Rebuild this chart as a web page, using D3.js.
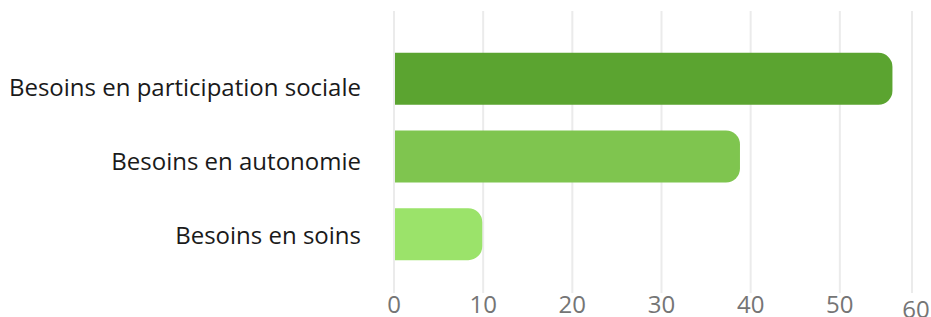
<!DOCTYPE html>
<html>
<head>
<meta charset="utf-8">
<script src="https://cdn.jsdelivr.net/npm/d3@7"></script>
<style>
  body { margin: 0; background: #fff; }
  svg { display: block; font-family: "Open Sans", sans-serif; }
</style>
</head>
<body>
<div id="chart"></div>
<script>
// categories and values
var categories = ["Besoins en participation sociale", "Besoins en autonomie", "Besoins en soins"];
var values = [55.9, 38.8, 9.9];
var barColors = ["#5ba430", "#7fc54f", "#9be36a"];
var tickValues = [0, 10, 20, 30, 40, 50, 60];

var width = 931;
var height = 317;

var svg = d3.select("#chart")
  .append("svg")
  .attr("width", width)
  .attr("height", height);

// scales
var xScale = d3.scaleLinear()
  .domain([0, 60])
  .range([394, 929]);

var yScale = d3.scaleBand()
  .domain(categories)
  .range([40, 273])
  .paddingInner(0.33)
  .paddingOuter(0.165);

// label baselines sit a bit lower than the bar centres
var labelScale = d3.scalePoint()
  .domain(categories)
  .range([96, 244]);

// last tick is pushed inside the frame
function tickX(t) {
  return Math.min(xScale(t), 912);
}

// grid lines
svg.append("g")
  .selectAll("line")
  .data(tickValues)
  .enter()
  .append("line")
  .attr("x1", tickX)
  .attr("x2", tickX)
  .attr("y1", 11)
  .attr("y2", 293)
  .attr("stroke", "#ebebeb")
  .attr("stroke-width", 2);

// tick labels
svg.append("g")
  .selectAll("text")
  .data(tickValues)
  .enter()
  .append("text")
  .attr("x", function(d) { return d === 60 ? 916 : tickX(d); })
  .attr("y", function(d) { return d === 60 ? 318 : 313; })
  .attr("text-anchor", "middle")
  .attr("font-size", 24)
  .attr("fill", "#757575")
  .text(function(d) { return d; });

// bar path: square left, rounded right
function barPath(x0, x1, y, h, r) {
  r = Math.min(r, (x1 - x0), h / 2);
  return "M" + x0 + "," + y +
    "H" + (x1 - r) +
    "A" + r + "," + r + " 0 0 1 " + x1 + "," + (y + r) +
    "V" + (y + h - r) +
    "A" + r + "," + r + " 0 0 1 " + (x1 - r) + "," + (y + h) +
    "H" + x0 + "Z";
}

svg.append("g")
  .selectAll("path")
  .data(categories)
  .enter()
  .append("path")
  .attr("d", function(d, i) {
    return barPath(xScale(0) + 1, xScale(values[i]), yScale(d), yScale.bandwidth(), 14);
  })
  .attr("fill", function(d, i) { return barColors[i]; });

// category labels
svg.append("g")
  .selectAll("text")
  .data(categories)
  .enter()
  .append("text")
  .attr("x", 361)
  .attr("y", function(d) { return labelScale(d); })
  .attr("text-anchor", "end")
  .attr("font-size", 24)
  .attr("fill", "#1a1a1a")
  .text(function(d) { return d; });
</script>
</body>
</html>
